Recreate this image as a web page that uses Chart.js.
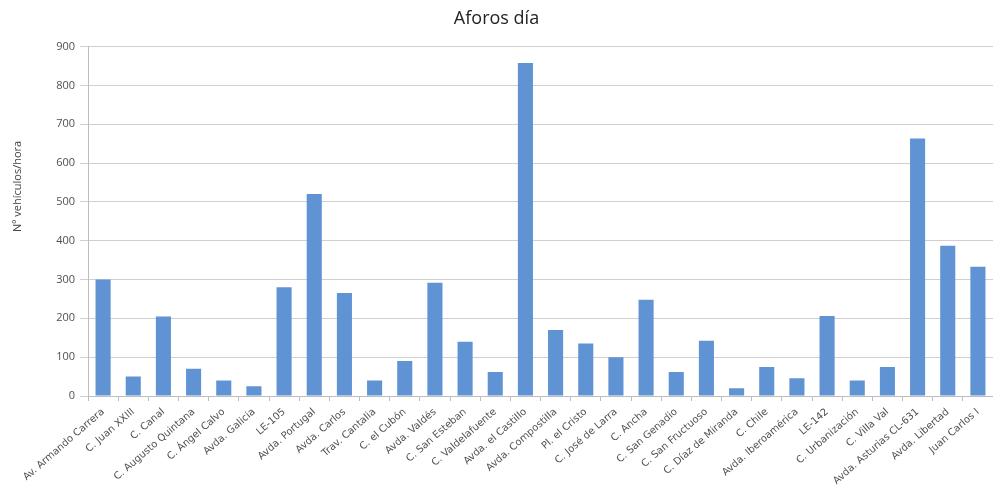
<!DOCTYPE html>
<html>
<head>
<meta charset="utf-8">
<script src="https://cdn.jsdelivr.net/npm/chart.js@4"></script>
<style>
  html, body { margin: 0; padding: 0; background: #ffffff; }
  #wrap { width: 993px; height: 496px; position: relative; }
</style>
</head>
<body>
<div id="wrap"><canvas id="c"></canvas></div>
<script>
// Calles con punto de aforo
const calles = [
  "Av. Armando Carrera", "C. Juan XXIII", "C. Canal", "C. Augusto Quintana",
  "C. Ángel Calvo", "Avda. Galicia", "LE-105", "Avda. Portugal", "Avda. Carlos",
  "Trav. Cantalia", "C. el Cubón", "Avda. Valdés", "C. San Esteban",
  "C. Valdelafuente", "Avda. el Castillo", "Avda. Compostilla", "Pl. el Cristo",
  "C. José de Larra", "C. Ancha", "C. San Genadio", "C. San Fructuoso",
  "C. Díaz de Miranda", "C. Chile", "Avda. Iberoamérica", "LE-142",
  "C. Urbanización", "C. Villa Val", "Avda. Asturias CL-631", "Avda. Libertad",
  "Juan Carlos I"
];

// Vehículos por hora en cada punto
const vehiculosHora = [
  300, 50, 205, 70, 40, 25, 280, 520, 265,
  40, 90, 292, 140, 62, 858, 170, 135,
  100, 248, 62, 142, 20, 75, 46, 206,
  40, 75, 663, 387, 333
];

const yTicks = [0, 100, 200, 300, 400, 500, 600, 700, 800, 900];
const tituloEjeY = 'Nº vehículos/hora';

// Rótulo vertical del eje Y, algo por encima del centro del área de dibujo
const rotuloEjeY = {
  id: 'rotuloEjeY',
  afterDraw(chart) {
    const ctx = chart.ctx;
    const area = chart.chartArea;
    ctx.save();
    ctx.translate(18, area.top + (area.bottom - area.top) * 0.4);
    ctx.rotate(-Math.PI / 2);
    ctx.textAlign = 'center';
    ctx.textBaseline = 'middle';
    ctx.fillStyle = '#444444';
    ctx.font = '11px "Open Sans"';
    ctx.fillText(tituloEjeY, 0, 0);
    ctx.restore();
  }
};

new Chart(document.getElementById('c'), {
  type: 'bar',
  data: {
    labels: calles,
    datasets: [{
      label: 'Aforos día',
      data: vehiculosHora,
      backgroundColor: '#5f93d3',
      borderWidth: 0,
      barPercentage: 0.5,
      categoryPercentage: 1.0
    }]
  },
  plugins: [rotuloEjeY],
  options: {
    responsive: true,
    maintainAspectRatio: false,
    animation: false,
    layout: { padding: 0 },
    plugins: {
      legend: { display: false },
      tooltip: { enabled: false },
      title: {
        display: true,
        text: 'Aforos día',
        color: '#222222',
        font: { family: 'Open Sans', size: 18, weight: 'normal' },
        padding: { top: 8, bottom: 17 }
      }
    },
    scales: {
      x: {
        afterFit: (axis) => { axis.height = 100; },
        grid: {
          display: true,
          drawOnChartArea: false,
          drawTicks: true,
          tickLength: 5,
          color: '#bdbdbd',
          offset: true
        },
        border: { color: '#bdbdbd' },
        ticks: {
          autoSkip: false,
          maxRotation: 41,
          minRotation: 41,
          padding: 5,
          color: '#505050',
          font: { family: 'DejaVu Sans', size: 10 }
        }
      },
      y: {
        min: 0,
        max: 900,
        afterFit: (axis) => { axis.width = 88; },
        afterBuildTicks: (axis) => { axis.ticks = yTicks.map(v => ({ value: v })); },
        grid: {
          color: '#d0d0d0',
          tickLength: 8,
          drawTicks: true
        },
        border: { color: '#bdbdbd' },
        ticks: {
          color: '#505050',
          padding: 5,
          font: { family: 'Open Sans', size: 11 }
        }
      }
    }
  }
});
</script>
</body>
</html>
